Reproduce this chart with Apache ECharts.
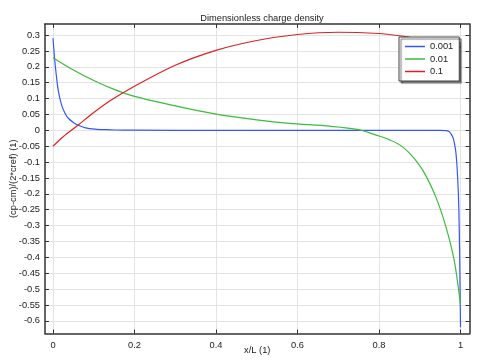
<!DOCTYPE html>
<html>
<head>
<meta charset="utf-8">
<script src="https://cdn.jsdelivr.net/npm/echarts@6/dist/echarts.min.js"></script>
<style>html,body{margin:0;padding:0;background:#fff}#c{width:483px;height:363px}</style>
</head>
<body>
<div id="c"></div>
<script>
var xTicks = [0, 0.2, 0.4, 0.6, 0.8, 1];
var yTicks = [-0.6,-0.55,-0.5,-0.45,-0.4,-0.35,-0.3,-0.25,-0.2,-0.15,-0.1,-0.05,0,0.05,0.1,0.15,0.2,0.25,0.3];

var blueX = [0,0.004,0.008,0.013,0.021,0.03,0.0375,0.05,0.062,0.08,0.103,0.13,0.152,0.2,0.4,0.6,0.8,0.95,0.965,0.973,0.981,0.985,0.989,0.993,0.996,0.998,1.0];
var blueY = [0.29,0.225,0.175,0.125,0.08,0.052,0.038,0.025,0.016,0.008,0.004,0.002,0.001,0.0005,0,0,0,0,-0.001,-0.005,-0.021,-0.04,-0.073,-0.148,-0.25,-0.4,-0.62];

var greenX = [0,0.05,0.1,0.15,0.2,0.3,0.4,0.5,0.58,0.68,0.75,0.8,0.826,0.85,0.875,0.908,0.94,0.965,0.985,1.0];
var greenY = [0.229,0.19,0.157,0.129,0.107,0.077,0.051,0.033,0.022,0.013,0.002,-0.018,-0.03,-0.045,-0.072,-0.127,-0.212,-0.307,-0.413,-0.55];

var redX = [0,0.025,0.062,0.1,0.14,0.2,0.3,0.4,0.5,0.6,0.7,0.8,0.85,0.9,0.95,1.0];
var redY = [-0.05,-0.02,0.017,0.056,0.093,0.139,0.205,0.252,0.283,0.302,0.309,0.305,0.298,0.288,0.276,0.262];

var seriesNames = ['0.001','0.01','0.1'];

function pairs(xs, ys){ return xs.map(function(x,i){ return [x, ys[i]]; }); }

var font = 'Liberation Sans, Arial, sans-serif';
var XMIN = -0.0196, XMAX = 1.0221, YMIN = -0.64, YMAX = 0.335;
function fmt(v){ return String(Math.round(v*100)/100); }

function xAx(pos, show){
  return {
    type:'value', position:pos, min:XMIN, max:XMAX,
    axisLine:{show:true, onZero:false, lineStyle:{color:'#333', width:1.5}},
    axisTick:{show:true, inside:true, length:4, customValues:xTicks, lineStyle:{color:'#333', width:1}},
    axisLabel:{show:show, customValues:xTicks, formatter:fmt, color:'#1a1a1a', fontSize:9.3, fontFamily:font, margin:7},
    splitLine:{show:show, lineStyle:{color:'#e4e4e4', width:1}},
    name: show ? 'x/L (1)' : '', nameLocation:'middle', nameGap:12, nameMoveOverlap:false,
    nameTextStyle:{color:'#1a1a1a', fontSize:9.3, fontFamily:font}
  };
}
function yAx(pos, show){
  return {
    type:'value', position:pos, min:YMIN, max:YMAX,
    axisLine:{show:true, onZero:false, lineStyle:{color:'#333', width:1.5}},
    axisTick:{show:true, inside:true, length:4, customValues:yTicks, lineStyle:{color:'#333', width:1}},
    axisLabel:{show:show, customValues:yTicks, formatter:fmt, color:'#1a1a1a', fontSize:9.3, fontFamily:font, margin:5},
    splitLine:{show:show, lineStyle:{color:'#e4e4e4', width:1}},
    name: show ? '(cp-cm)/(2*cref) (1)' : '', nameLocation:'middle', nameGap:27, nameRotate:90, nameMoveOverlap:false,
    nameTextStyle:{color:'#1a1a1a', fontSize:9.3, fontFamily:font}
  };
}

var chart = echarts.init(document.getElementById('c'), null, {renderer:'canvas'});
chart.setOption({
  animation:false,
  backgroundColor:'#fff',
  title:{text:'Dimensionless charge density', left:257, textAlign:'center', top:9,
    textStyle:{fontSize:9.3, fontWeight:'normal', color:'#1a1a1a', fontFamily:font}},
  grid:{left:45, right:13.5, top:24, bottom:29.5, containLabel:false, outerBoundsMode:'none'},
  xAxis:[xAx('bottom', true), xAx('top', false)],
  yAxis:[yAx('left', true), yAx('right', false)],
  legend:{
    orient:'vertical', left:399, top:37, data:seriesNames, icon:'rect',
    backgroundColor:'#fff', borderColor:'#444', borderWidth:1,
    shadowColor:'rgba(0,0,0,0.55)', shadowOffsetX:2, shadowOffsetY:2, shadowBlur:1,
    padding:[4,6,4,6], itemGap:1.5, itemWidth:20, itemHeight:1.5,
    textStyle:{fontSize:9.3, lineHeight:11, color:'#1a1a1a', fontFamily:font}
  },
  series:[
    {name:seriesNames[0], type:'line', data:pairs(blueX, blueY), symbol:'none', smooth:0.3,
     lineStyle:{color:'#3355ff', width:1.2}, itemStyle:{color:'#3355ff'}},
    {name:seriesNames[1], type:'line', data:pairs(greenX, greenY), symbol:'none', smooth:0.3,
     lineStyle:{color:'#3cbb3c', width:1.2}, itemStyle:{color:'#3cbb3c'}},
    {name:seriesNames[2], type:'line', data:pairs(redX, redY), symbol:'none', smooth:0.3,
     lineStyle:{color:'#e02020', width:1.2}, itemStyle:{color:'#e02020'}}
  ]
});
</script>
</body>
</html>
